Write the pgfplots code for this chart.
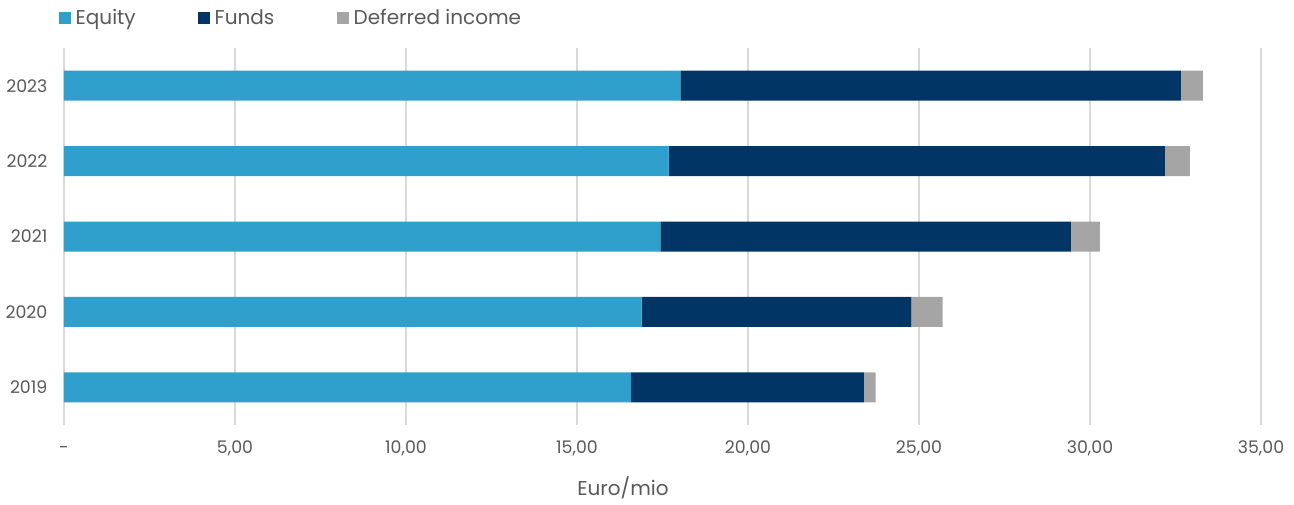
\documentclass[border=0pt]{standalone}
\usepackage{pgfplots}
\pgfplotsset{compat=1.18}
\usepackage{fontspec}
\setmainfont{Poppins}
\definecolor{eqc}{HTML}{2EA0CB}
\definecolor{fuc}{HTML}{003566}
\definecolor{dec}{HTML}{A5A5A5}
\definecolor{gridc}{HTML}{D9D9D9}
\definecolor{txtc}{HTML}{595959}
\begin{document}
\begin{tikzpicture}
\path[use as bounding box] (-48pt,-59.25pt) rectangle (922.5pt,318.75pt);
\begin{axis}[
  at={(0,0)}, anchor=south west,
  scale only axis,
  width=897.75pt, height=282.75pt,
  xbar stacked,
  bar width=22.5pt,
  xmin=0, xmax=35,
  ymin=-0.5, ymax=4.5,
  xtick={0,5,...,35},
  xticklabels={-,{5,00},{10,00},{15,00},{20,00},{25,00},{30,00},{35,00}},
  ytick={0,1,2,3,4},
  yticklabels={2019,2020,2021,2022,2023},
  major tick length=0pt,
  axis line style={draw=none},
  xmajorgrids,
  grid style={gridc, line width=0.9pt},
  tick label style={font=\fontsize{13}{15}\selectfont, text=txtc},
  xticklabel style={anchor=base, inner sep=0pt, yshift=-21pt},
  yticklabel style={anchor=east, inner sep=0pt, xshift=-12.3pt},
  xlabel={Euro/mio},
  xlabel style={at={(axis description cs:0.467,0)}, anchor=base, yshift=-52.5pt, font=\fontsize{15}{18}\selectfont, text=txtc},
  legend columns=3,
  legend image code/.code={\fill[#1] (0pt,-4.3pt) rectangle (8.6pt,4.3pt);},
  legend style={
    at={(axis description cs:-0.0042,1.0790)}, anchor=west,
    draw=none, fill=none, inner sep=0pt,
    font=\fontsize{15}{18}\selectfont, text=txtc,
    nodes={inner sep=0pt},
    /tikz/every odd column/.append style={column sep=3.75pt},
    /tikz/every even column/.append style={column sep=0pt},
  },
]
\addplot[fill=eqc, draw=none] coordinates {(16.58,0) (16.89,1) (17.44,2) (17.68,3) (18.02,4)};
\addplot[fill=fuc, draw=none] coordinates {(6.81,0) (7.89,1) (12.00,2) (14.51,3) (14.64,4)};
\addplot[fill=dec, draw=none] coordinates {(0.34,0) (0.91,1) (0.85,2) (0.73,3) (0.64,4)};
\legend{\makebox[91.9pt][l]{Equity},\makebox[91.9pt][l]{Funds},\makebox[91.9pt][l]{Deferred income}}
\end{axis}
\end{tikzpicture}
\end{document}
